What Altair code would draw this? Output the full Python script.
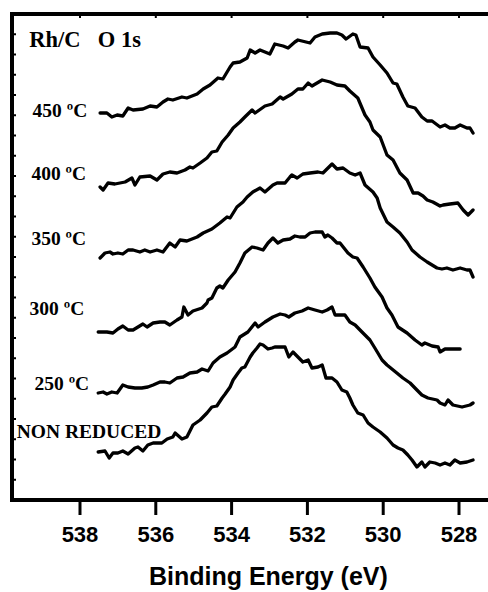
import altair as alt
import pandas as pd

# ---- data: O 1s XPS spectra (binding energy eV, intensity a.u.) ----
s450 = [(537.47,387),(537.29,387),(537.16,383),(537.02,385),(536.87,384),(536.73,392),(536.60,390),(536.34,391),(536.15,394),(535.97,393),(535.81,398),(535.68,401),(535.55,400),(535.31,403),(535.18,402),(534.91,406),(534.75,411),(534.57,415),(534.36,422),(534.23,421),(534.04,433),(533.96,437),(533.78,438),(533.59,442),(533.51,450),(533.38,447),(533.25,450),(532.99,446),(532.86,456),(532.64,454),(532.51,452),(532.33,458),(532.25,460),(531.93,457),(531.80,463),(531.61,466),(531.40,467),(531.22,467),(531.09,465),(530.98,461),(530.80,466),(530.72,465),(530.61,453),(530.40,452),(530.27,443),(530.08,435),(529.90,427),(529.74,417),(529.64,416),(529.48,403),(529.35,394),(529.16,392),(528.98,383),(528.84,379),(528.71,379),(528.50,373),(528.37,375),(528.24,372),(528.11,372),(527.97,375),(527.79,372),(527.71,372),(527.63,367)]

s400 = [(537.47,313),(537.39,310),(537.26,317),(537.08,316),(536.81,318),(536.63,322),(536.55,315),(536.42,323),(536.15,324),(535.97,320),(535.81,326),(535.63,328),(535.44,327),(535.23,330),(535.10,333),(535.02,332),(534.83,337),(534.65,342),(534.52,348),(534.39,349),(534.25,358),(534.09,365),(533.96,372),(533.78,378),(533.65,383),(533.46,390),(533.38,387),(533.12,394),(532.93,396),(532.72,403),(532.64,401),(532.41,406),(532.25,411),(532.12,411),(531.98,417),(531.88,414),(531.61,420),(531.40,418),(531.22,415),(531.01,414),(530.88,409),(530.67,402),(530.48,385),(530.35,378),(530.27,370),(530.08,363),(529.90,345),(529.74,340),(529.56,327),(529.37,320),(529.21,307),(529.08,307),(528.95,304),(528.84,300),(528.69,298),(528.50,294),(528.42,295),(528.24,296),(528.03,297),(527.89,290),(527.76,285),(527.63,290)]

s350 = [(537.47,242),(537.34,247),(537.21,248),(537.13,246),(537.00,247),(536.87,246),(536.73,250),(536.60,250),(536.42,248),(536.29,250),(536.15,248),(535.97,250),(535.81,248),(535.63,257),(535.49,253),(535.36,260),(535.18,259),(534.91,263),(534.75,267),(534.52,271),(534.31,277),(534.12,283),(534.04,282),(533.86,293),(533.70,298),(533.59,303),(533.44,308),(533.25,312),(533.12,308),(532.91,315),(532.80,317),(532.59,317),(532.46,323),(532.41,325),(532.27,322),(532.12,326),(531.93,327),(531.72,328),(531.59,327),(531.35,336),(531.22,331),(531.06,332),(530.88,327),(530.74,325),(530.61,327),(530.48,315),(530.27,308),(530.16,302),(530.08,292),(529.90,278),(529.74,273),(529.56,267),(529.37,258),(529.24,250),(529.03,243),(528.84,238),(528.58,232),(528.45,231),(528.32,232),(528.16,230),(527.97,232),(527.79,230),(527.71,230),(527.63,223)]

s300 = [(537.52,168),(537.29,168),(537.13,167),(537.00,171),(536.87,174),(536.73,170),(536.60,170),(536.47,173),(536.34,176),(536.23,173),(536.07,177),(535.89,178),(535.76,178),(535.63,175),(535.44,180),(535.31,183),(535.26,193),(535.15,185),(535.02,189),(534.78,192),(534.65,197),(534.62,200),(534.52,202),(534.39,212),(534.31,214),(534.23,212),(534.09,220),(533.91,228),(533.78,237),(533.65,247),(533.46,253),(533.33,252),(533.17,250),(533.04,257),(532.91,262),(532.78,257),(532.64,260),(532.46,261),(532.33,264),(532.20,263),(532.06,263),(531.93,267),(531.80,268),(531.61,268),(531.54,263),(531.46,265),(531.35,262),(531.22,257),(531.14,257),(530.93,247),(530.80,243),(530.69,242),(530.53,233),(530.35,222),(530.22,213),(530.03,203),(529.90,192),(529.77,185),(529.61,173),(529.37,167),(529.16,160),(528.98,155),(528.90,157),(528.71,154),(528.55,153),(528.50,148),(528.37,151),(528.18,151),(527.97,151)]

s250 = [(537.52,107),(537.39,108),(537.29,106),(537.16,108),(537.02,107),(536.87,115),(536.73,113),(536.55,112),(536.37,112),(536.21,113),(536.07,115),(535.89,118),(535.76,118),(535.63,117),(535.44,122),(535.28,123),(535.10,127),(534.91,128),(534.78,131),(534.62,129),(534.49,137),(534.31,143),(534.12,147),(533.91,153),(533.78,163),(533.57,168),(533.38,177),(533.30,173),(533.12,178),(532.91,183),(532.72,186),(532.59,185),(532.49,183),(532.33,187),(532.14,189),(531.98,192),(531.80,190),(531.61,188),(531.48,190),(531.35,193),(531.27,185),(531.14,185),(531.01,185),(530.88,178),(530.74,175),(530.56,168),(530.35,160),(530.22,152),(530.03,140),(529.90,135),(529.64,127),(529.48,122),(529.29,117),(529.11,110),(528.98,105),(528.82,102),(528.58,100),(528.50,97),(528.37,95),(528.29,100),(528.16,95),(527.92,93),(527.71,95),(527.63,97)]

s_nr = [(537.52,48),(537.34,49),(537.23,42),(537.13,47),(537.00,47),(536.87,49),(536.73,46),(536.55,52),(536.47,53),(536.34,49),(536.21,55),(536.07,57),(535.84,57),(535.70,61),(535.55,63),(535.49,67),(535.31,61),(535.18,63),(535.02,75),(534.83,80),(534.65,87),(534.52,93),(534.39,94),(534.25,102),(534.17,106),(534.04,113),(533.96,120),(533.83,127),(533.73,132),(533.65,133),(533.51,143),(533.44,147),(533.33,152),(533.25,156),(533.17,155),(533.04,151),(532.93,152),(532.86,153),(532.72,153),(532.59,153),(532.49,143),(532.38,148),(532.25,143),(532.12,138),(531.98,140),(531.88,132),(531.72,133),(531.61,135),(531.51,122),(531.35,122),(531.22,118),(531.09,110),(530.96,108),(530.88,102),(530.80,95),(530.67,87),(530.53,85),(530.40,77),(530.27,73),(530.08,68),(529.90,62),(529.74,55),(529.61,52),(529.48,50),(529.35,45),(529.24,40),(529.11,33),(528.98,38),(528.90,33),(528.77,38),(528.63,37),(528.50,35),(528.37,37),(528.24,35),(528.11,40),(527.97,37),(527.79,38),(527.63,40)]

series_names = ["450 ºC", "400 ºC", "350 ºC", "300 ºC", "250 ºC", "NON REDUCED"]
series_data = [s450, s400, s350, s300, s250, s_nr]

# in-plot labels: text, BE of left edge, baseline intensity, font size
label_text = ["Rh/C", "O 1s", "450 ºC", "400 ºC", "350 ºC", "300 ºC", "250 ºC", "NON REDUCED"]
label_be = [539.34, 537.53, 539.25, 539.28, 539.28, 539.33, 539.20, 539.67]
label_y = [453, 453, 383, 320, 255, 185, 110, 62]
label_size = [22.5, 22.5, 19.5, 19.5, 19.5, 19.5, 19.5, 19.5]

x_ticks = [538, 536, 534, 532, 530, 528]
x_tick_labels = ["538", "536", "534", "532", "530", "528"]
x_title = "Binding Energy (eV)"
x_title_be = 533.03
y_minor_ticks = [20.25 * k for k in range(1, 24)]

rows = []
for name, pts in zip(series_names, series_data):
    for i, (be, c) in enumerate(pts):
        rows.append({"series": name, "be": be, "counts": c, "order": i})
df = pd.DataFrame(rows)

labels_df = pd.DataFrame({"text": label_text, "be": label_be, "y": label_y, "size": label_size})
xt_df = pd.DataFrame({"v": x_ticks, "lab": x_tick_labels})
yt_df = pd.DataFrame({"v": y_minor_ticks})
title_df = pd.DataFrame({"text": [x_title], "be": [x_title_be]})

xscale = alt.Scale(domain=[527.235, 539.794], reverse=True, nice=False, zero=False)
yscale = alt.Scale(domain=[0, 486], nice=False, zero=False)

lines = alt.Chart(df).mark_line(
    color="black", strokeWidth=3.3, strokeJoin="round", strokeCap="round"
).encode(
    x=alt.X("be:Q", scale=xscale, axis=None),
    y=alt.Y("counts:Q", scale=yscale, axis=None),
    detail="series:N",
    order="order:Q",
)

top_ticks = alt.Chart(xt_df).mark_rule(color="black", strokeWidth=2).encode(
    x=alt.X("v:Q", scale=xscale, axis=None), y=alt.value(0), y2=alt.value(4))

bottom_ticks = alt.Chart(xt_df).mark_rule(color="black", strokeWidth=3).encode(
    x=alt.X("v:Q", scale=xscale, axis=None), y=alt.value(486), y2=alt.value(501))

left_ticks = alt.Chart(yt_df).mark_rule(color="black", strokeWidth=2).encode(
    y=alt.Y("v:Q", scale=yscale, axis=None), x=alt.value(0), x2=alt.value(4))

texts = alt.Chart(labels_df).mark_text(
    font="Liberation Serif", fontWeight="bold", color="black",
    align="left", baseline="alphabetic"
).encode(
    x=alt.X("be:Q", scale=xscale, axis=None),
    y=alt.Y("y:Q", scale=yscale, axis=None),
    text="text:N",
    size=alt.Size("size:Q", scale=None, legend=None),
)

tick_labels = alt.Chart(xt_df).mark_text(
    font="Liberation Sans", fontWeight="bold", fontSize=22, color="black",
    align="center", baseline="alphabetic"
).encode(x=alt.X("v:Q", scale=xscale, axis=None), y=alt.value(528), text="lab:N")

axis_title = alt.Chart(title_df).mark_text(
    font="Liberation Sans", fontWeight="bold", fontSize=25, color="black",
    align="center", baseline="alphabetic"
).encode(x=alt.X("be:Q", scale=xscale, axis=None), y=alt.value(571), text="text:N")

# frame lines of the plot box (left, top, bottom)
left_frame = alt.Chart(xt_df).mark_rule(color="black", strokeWidth=3.5).encode(
    x=alt.value(0), y=alt.value(-1.7), y2=alt.value(487.7))
top_frame = alt.Chart(xt_df).mark_rule(color="black", strokeWidth=3.5).encode(
    y=alt.value(0), x=alt.value(0), x2=alt.value(476))
bottom_frame = alt.Chart(xt_df).mark_rule(color="black", strokeWidth=3.5).encode(
    y=alt.value(486), x=alt.value(-1.7), x2=alt.value(476))

chart = alt.layer(
    lines, top_ticks, left_ticks, texts, left_frame, top_frame,
    bottom_frame, bottom_ticks, tick_labels, axis_title
).properties(
    width=476, height=486,
    autosize=alt.AutoSizeParams(type="none"),
    padding={"left": 12, "top": 14, "right": 0, "bottom": 92},
    background="white",
).configure_view(strokeWidth=0)

chart.save("out.html", embed_options={"renderer": "svg", "actions": False})
